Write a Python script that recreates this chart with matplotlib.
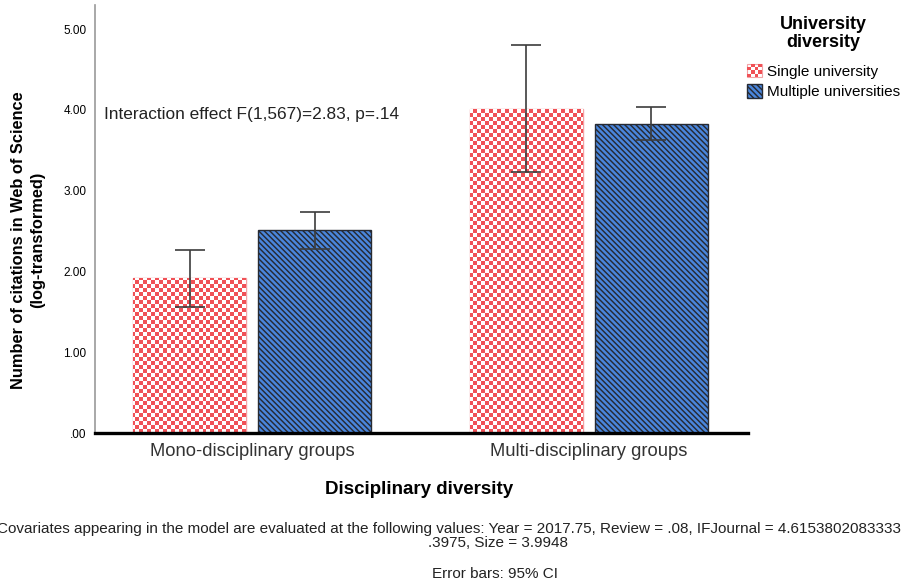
import matplotlib
matplotlib.use('Agg')
import matplotlib.pyplot as plt
import numpy as np
from matplotlib.colors import ListedColormap
from matplotlib.patches import Rectangle
from matplotlib.legend_handler import HandlerBase

plt.rcParams['font.family'] = ['Liberation Sans', 'DejaVu Sans']
plt.rcParams['hatch.linewidth'] = 1.05

# data (log-transformed citation counts)
groups = ['Mono-disciplinary groups', 'Multi-disciplinary groups']
series = ['Single university', 'Multiple universities']
means = {'Single university': [1.92, 4.01],
         'Multiple universities': [2.51, 3.83]}
ci_low = {'Single university': [1.565, 3.23],
          'Multiple universities': [2.28, 3.63]}
ci_high = {'Single university': [2.27, 4.80],
           'Multiple universities': [2.74, 4.04]}
yticks = [0, 1, 2, 3, 4, 5]
ytick_labels = ['.00', '1.00', '2.00', '3.00', '4.00', '5.00']

red = '#f05156'
blue = '#4a86dc'

fig = plt.figure(figsize=(9.03, 5.85), dpi=100)
ax = fig.add_axes([95 / 903, 1 - 433 / 585, 653 / 903, 428 / 585])

x = np.arange(len(groups))
width = 0.335
offsets = [-0.1855, 0.1855]

# checkerboard texture, 4px cells over the axes area
cells = np.indices((107, 164)).sum(axis=0) % 2
checker_cmap = ListedColormap(['white', red])

red_bars = ax.bar(x + offsets[0], means[series[0]], width, color=red,
                  edgecolor='#f3a3a6', linewidth=1.0, zorder=2)
for b in red_bars:
    im = ax.imshow(cells, extent=(0, 1, 0, 1), transform=ax.transAxes,
                   cmap=checker_cmap, interpolation='nearest', aspect='auto',
                   zorder=2.5)
    im.set_clip_path(b)

blue_bars = ax.bar(x + offsets[1], means[series[1]], width, color=blue,
                   edgecolor='#262a33', linewidth=1.0, hatch='\\' * 6, zorder=2)

for s, off in zip(series, offsets):
    m = np.array(means[s])
    lo = m - np.array(ci_low[s])
    hi = np.array(ci_high[s]) - m
    ax.errorbar(x + off, m, yerr=[lo, hi], fmt='none', ecolor='#3c3c3c',
                elinewidth=1.2, capsize=11, capthick=1.2, zorder=4)

ax.set_xlim(-0.466, 1.472)
ax.set_ylim(0, 5.3)
ax.set_yticks(yticks)
ax.set_yticklabels(ytick_labels, fontsize=8.5)
ax.set_xticks(x)
ax.set_xticklabels(groups, fontsize=13.2, color='#333333')
ax.tick_params(axis='y', length=0, pad=6)
ax.tick_params(axis='x', length=0, pad=7)

for side in ['top', 'right']:
    ax.spines[side].set_visible(False)
ax.spines['left'].set_color('#999999')
ax.spines['left'].set_linewidth(1.2)
ax.spines['bottom'].set_color('black')
ax.spines['bottom'].set_linewidth(2.4)
ax.spines['bottom'].set_zorder(5)

ax.text(-0.439, 3.94, 'Interaction effect F(1,567)=2.83, p=.14', fontsize=12.4,
        color='#222222', ha='left', va='center')

# axis titles
fig.text(28 / 903, 1 - 240 / 585,
         'Number of citations in Web of Science\n(log-transformed)',
         rotation=90, ha='center', va='center', fontsize=11.8,
         fontweight='bold', multialignment='center', linespacing=1.3)
fig.text(419 / 903, 1 - 490 / 585, 'Disciplinary diversity', fontsize=13.5,
         fontweight='bold', ha='center', va='center')


# legend with a checkerboard swatch for the single-university bars
class CheckerHandler(HandlerBase):
    def create_artists(self, legend, orig_handle, xdescent, ydescent,
                       width, height, fontsize, trans):
        arts = [Rectangle((-xdescent, -ydescent), width, height,
                          facecolor='white', edgecolor='#f3a3a6', lw=0.8,
                          transform=trans)]
        n = 4
        cw, ch = width / n, height / n
        for i in range(n):
            for j in range(n):
                if (i + j) % 2 == 0:
                    arts.append(Rectangle((-xdescent + i * cw, -ydescent + j * ch),
                                          cw, ch, facecolor=red, edgecolor='none',
                                          transform=trans))
        return arts


leg = fig.legend([red_bars[0], blue_bars[0]], series, loc='upper left',
                 bbox_to_anchor=(747 / 903, 1 - 16 / 585), frameon=False,
                 fontsize=11, handlelength=1.0, handleheight=0.95,
                 handletextpad=0.3, labelspacing=0.38, borderpad=0,
                 borderaxespad=0, alignment='center',
                 title='University\ndiversity',
                 title_fontproperties={'weight': 'bold', 'size': 13},
                 handler_map={red_bars[0]: CheckerHandler()})
leg.get_title().set_multialignment('center')
leg.get_title().set_linespacing(1.1)
leg._legend_box.sep = 9

# footnotes
fig.text(-3 / 903, 1 - 533 / 585,
         'Covariates appearing in the model are evaluated at the following values: '
         'Year = 2017.75, Review = .08, IFJournal = 4.6153802083333',
         fontsize=11, ha='left', va='baseline', color='#222222')
fig.text(498 / 903, 1 - 547 / 585, '.3975, Size = 3.9948', fontsize=11,
         ha='center', va='baseline', color='#222222')
fig.text(495 / 903, 1 - 578 / 585, 'Error bars: 95% CI', fontsize=11,
         ha='center', va='baseline', color='#222222')

fig.savefig('out.png', dpi=100)
